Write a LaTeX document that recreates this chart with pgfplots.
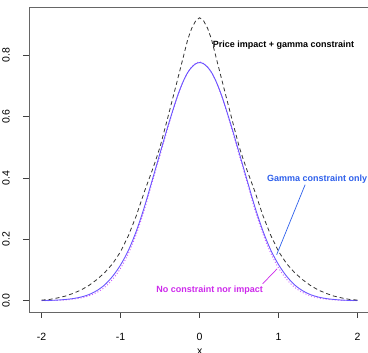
\documentclass[border=0pt]{standalone}
\usepackage{pgfplots}
\pgfplotsset{compat=1.18}
\usepackage{fontspec}
\setmainfont{Liberation Sans}
\definecolor{solidc}{RGB}{105,85,255}
\definecolor{dotc}{RGB}{205,90,255}
\definecolor{gamc}{RGB}{45,95,235}
\definecolor{ncc}{RGB}{205,40,235}
\begin{document}
\begin{tikzpicture}
\begin{axis}[
  scale only axis, width=341.3pt, height=305pt,
  xmin=-2.16, xmax=2.16, ymin=-0.0368, ymax=0.957,
  axis line style={draw=black!60, line width=0.9pt},
  xtick={-2,-1,0,1,2}, xticklabels={-2,-1,0,1,2},
  ytick={0,0.2,0.4,0.6,0.8}, yticklabels={0.0,0.2,0.4,0.6,0.8},
  tick pos=left, tick align=outside, major tick length=6pt,
  tick style={black!75, line width=0.6pt},
  ticklabel style={font=\fontsize{10.5}{12}\selectfont, inner sep=0pt},
  xticklabel style={anchor=north},
  xticklabel shift=15pt,
  yticklabel style={rotate=90, anchor=south},
  yticklabel shift=13pt,
  xlabel={x},
  xlabel style={font=\fontsize{10.5}{12}\selectfont, anchor=north, inner sep=0pt, at={(axis description cs:0.5,0)}, yshift=-36.5pt},
  clip=false,
]
\addplot[dotc, line width=0.9pt, dash pattern=on 1pt off 2pt, smooth] coordinates {
(-2.0,0.0002)(-1.9,0.0005)(-1.8,0.001)(-1.7,0.0025)(-1.6,0.005)(-1.5,0.009)(-1.4,0.016)(-1.3,0.027)(-1.2,0.044)(-1.1,0.070)(-1.0,0.106)(-0.9,0.155)(-0.8,0.218)(-0.7,0.296)(-0.6,0.386)(-0.5,0.475)(-0.4,0.565)(-0.3,0.650)(-0.2,0.719)(-0.1,0.762)(0,0.778)
(0.1,0.762)(0.2,0.719)(0.3,0.650)(0.4,0.565)(0.5,0.475)(0.6,0.386)(0.7,0.296)(0.8,0.218)(0.9,0.155)(1.0,0.106)(1.1,0.070)(1.2,0.044)(1.3,0.027)(1.4,0.016)(1.5,0.009)(1.6,0.005)(1.7,0.0025)(1.8,0.001)(1.9,0.0005)(2.0,0.0002)
};
\addplot[solidc, line width=0.9pt, smooth] coordinates {
(-2.0,0.0005)(-1.9,0.001)(-1.8,0.002)(-1.7,0.004)(-1.6,0.007)(-1.5,0.012)(-1.4,0.020)(-1.3,0.033)(-1.2,0.052)(-1.1,0.080)(-1.0,0.117)(-0.9,0.165)(-0.8,0.228)(-0.7,0.305)(-0.6,0.393)(-0.5,0.482)(-0.4,0.570)(-0.3,0.652)(-0.25,0.688)(-0.2,0.719)(-0.15,0.744)(-0.1,0.761)(-0.05,0.772)(0,0.776)
(0.05,0.772)(0.1,0.761)(0.15,0.744)(0.2,0.719)(0.25,0.688)(0.3,0.652)(0.4,0.570)(0.5,0.482)(0.6,0.393)(0.7,0.305)(0.8,0.228)(0.9,0.165)(1.0,0.117)(1.1,0.080)(1.2,0.052)(1.3,0.033)(1.4,0.020)(1.5,0.012)(1.6,0.007)(1.7,0.004)(1.8,0.002)(1.9,0.001)(2.0,0.0005)
};
\addplot[black!80, line width=0.8pt, dash pattern=on 4pt off 3pt] coordinates {
(-2.0,0.002)(-1.9,0.004)(-1.8,0.009)(-1.7,0.015)(-1.6,0.024)(-1.5,0.035)(-1.4,0.050)(-1.3,0.069)(-1.2,0.092)(-1.1,0.121)(-1.0,0.160)(-0.9,0.213)(-0.8,0.278)(-0.7,0.355)(-0.6,0.425)(-0.55,0.462)(-0.5,0.502)(-0.4,0.600)(-0.3,0.700)(-0.2,0.801)(-0.15,0.852)(-0.1,0.888)(-0.05,0.912)(0,0.922)
(0.05,0.912)(0.1,0.888)(0.15,0.852)(0.2,0.801)(0.3,0.700)(0.4,0.600)(0.5,0.502)(0.55,0.462)(0.6,0.425)(0.7,0.355)(0.8,0.278)(0.9,0.213)(1.0,0.160)(1.1,0.121)(1.2,0.092)(1.3,0.069)(1.4,0.050)(1.5,0.035)(1.6,0.024)(1.7,0.015)(1.8,0.009)(1.9,0.004)(2.0,0.002)
};
\draw[gamc, line width=0.7pt] (axis cs:1.335,0.378) -- (axis cs:0.975,0.150);
\draw[ncc, line width=0.7pt] (axis cs:0.797,0.055) -- (axis cs:0.981,0.104);
\node[anchor=west, inner sep=0pt, font=\fontsize{9}{10}\selectfont\bfseries] at (axis cs:0.165,0.832) {Price impact + gamma constraint};
\node[inner sep=0pt, text=gamc, font=\fontsize{9}{10}\selectfont\bfseries] at (axis cs:1.487,0.395) {Gamma constraint only};
\node[inner sep=0pt, text=ncc, font=\fontsize{9}{10}\selectfont\bfseries] at (axis cs:0.127,0.033) {No constraint nor impact};
\end{axis}
\pgfresetboundingbox
\path[use as bounding box] ([shift={(-29pt,7pt)}]current axis.north west) rectangle ([shift={(339pt,-346pt)}]current axis.north west);
\end{tikzpicture}
\end{document}
